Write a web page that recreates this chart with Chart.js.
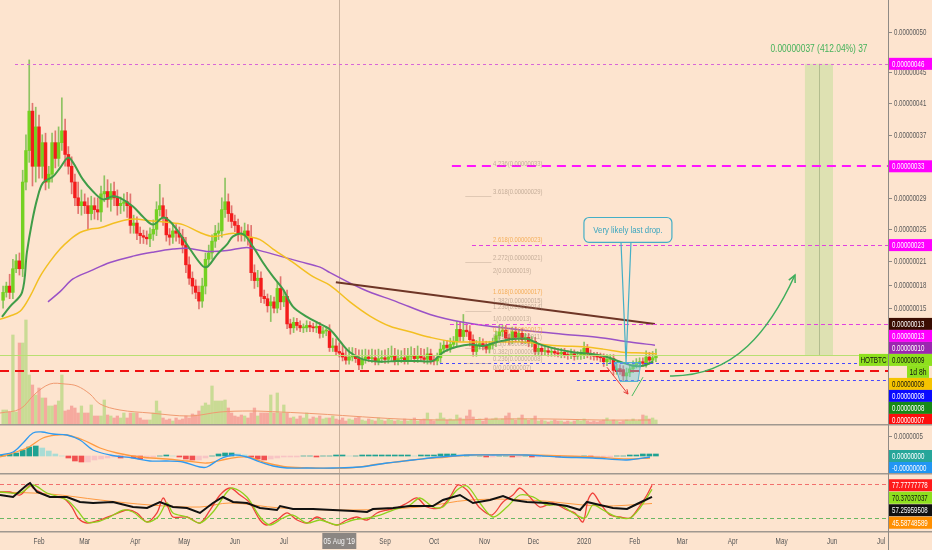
<!DOCTYPE html>
<html>
<head>
<meta charset="utf-8">
<script src="https://cdn.jsdelivr.net/npm/chart.js@4.4.1/dist/chart.umd.min.js"></script>
<style>
  html, body { margin: 0; padding: 0; background: #fde4cf; }
  #wrap { position: relative; width: 932px; height: 550px; overflow: hidden; }
  canvas { position: absolute; left: 0; }
</style>
</head>
<body>
<div id="wrap">
  <canvas id="main" width="932" height="424" style="top:0"></canvas>
  <canvas id="macd" width="932" height="49" style="top:424px"></canvas>
  <canvas id="stoch" width="932" height="77" style="top:473px"></canvas>
</div>
<script>
// HOT/BTC, 2-day candles. Prices in satoshi (1e-8 BTC), days counted from 1 Jan 2019
const candleStart = 9;
const firstOpen = 16.0;
const closes = [
  17.0,17.8,17.0,20.0,21.0,20.0,31.0,35.0,40.0,33.0,
  38.0,33.0,36.0,31.0,32.0,36.0,34.0,36.0,37.5,34.5,
  33.0,31.0,29.0,28.0,28.5,28.0,27.0,28.0,27.5,27.2,
  29.5,29.8,28.8,29.8,29.0,28.0,28.3,28.5,28.0,25.5,
  25.8,24.5,24.2,24.0,23.8,24.4,25.0,27.5,28.0,26.5,
  24.3,24.0,24.8,24.5,24.0,23.0,20.5,18.8,17.8,17.0,
  15.9,17.8,21.2,22.0,23.5,24.5,24.8,27.5,28.5,27.0,
  26.0,25.5,24.5,24.3,24.8,24.0,19.5,18.5,18.8,16.5,
  16.2,15.3,15.8,15.0,17.5,15.8,16.5,13.0,12.5,13.2,
  12.8,12.5,12.5,12.8,12.6,12.5,12.7,11.8,12.1,12.1,
  10.0,10.2,9.5,9.3,8.8,8.4,8.8,9.0,8.6,7.8,
  8.5,8.8,8.6,8.7,8.3,8.6,8.7,8.5,8.8,8.9,
  8.3,8.6,8.7,8.4,8.9,9.0,8.6,8.9,8.7,8.5,
  9.2,8.4,8.3,8.7,9.8,10.3,10.0,10.4,10.8,12.3,
  11.4,12.2,12.0,11.0,9.5,10.3,10.5,10.2,9.8,10.3,
  10.6,11.5,12.0,12.2,11.2,11.0,12.0,11.3,11.8,11.0,
  11.3,10.6,10.8,9.5,9.9,9.5,9.6,9.4,9.5,9.3,
  9.2,9.4,9.1,9.0,9.2,8.9,9.0,9.1,9.9,9.2,
  9.0,8.9,8.8,8.7,8.2,8.5,8.6,7.1,7.3,7.2,
  6.4,6.8,7.3,7.8,8.0,8.2,8.0,8.8,8.4,8.7,
  9.0
];
const wickUp = [
  0.8,0.5,1.5,1.2,0.8,1.0,1.5,2.0,6.5,1.0,
  2.5,1.5,1.0,1.2,1.0,1.2,1.5,2.0,4.2,1.5,
  1.0,1.2,1.0,2.0,1.5,1.0,1.0,1.2,1.0,1.5,
  1.0,2.0,1.5,1.0,1.2,1.0,0.8,1.0,1.2,1.5,
  1.0,0.8,0.8,0.7,0.8,0.8,1.2,1.0,2.7,1.0,
  1.0,0.8,1.0,0.8,0.8,1.0,1.0,1.0,0.8,0.8,
  0.8,1.0,0.8,1.0,0.8,1.0,1.0,1.5,3.0,1.0,
  1.0,0.8,0.8,0.8,1.0,0.8,1.5,1.0,1.0,0.8,
  0.8,0.6,0.8,0.6,0.8,1.5,0.8,0.8,0.6,0.6,
  0.5,0.6,0.5,0.6,0.5,0.5,0.6,0.5,0.5,0.6,
  0.8,1.0,0.9,1.1,1.0,0.9,1.2,1.0,0.9,1.1,
  1.2,1.0,0.9,1.1,1.0,1.2,0.9,1.0,1.1,1.3,
  1.0,1.1,0.9,1.2,1.0,1.1,0.9,1.3,1.0,1.1,
  0.8,0.6,0.5,0.6,0.8,0.6,0.6,0.8,0.6,1.0,
  1.0,2.0,0.8,0.8,0.6,0.6,0.8,0.6,0.6,0.5,
  0.6,0.6,0.8,0.6,0.6,0.5,0.6,0.6,0.5,0.6,
  0.5,0.5,0.6,0.5,0.5,0.5,0.6,0.5,0.5,0.5,
  0.6,0.5,0.5,0.5,0.6,0.5,0.5,0.6,0.8,0.5,
  0.5,0.4,0.5,0.5,0.5,0.6,0.5,0.5,0.6,0.5,
  0.5,0.6,0.5,0.5,0.6,0.5,0.5,0.8,0.6,0.8,
  0.8
];
const wickDn = [
  1.0,0.6,0.8,0.8,0.5,0.8,1.0,1.0,1.5,2.5,
  2.0,1.5,1.5,1.0,0.8,1.0,1.2,1.0,1.0,1.5,
  1.0,1.5,1.0,1.0,1.2,1.0,2.0,0.8,1.2,1.0,
  1.2,1.0,1.0,1.5,1.0,1.2,1.0,1.0,1.5,1.0,
  1.0,0.8,1.0,0.8,0.7,1.0,0.8,0.8,0.8,1.0,
  0.8,1.0,0.8,1.0,0.8,1.0,1.0,0.8,1.0,0.8,
  1.0,0.8,1.0,0.8,0.8,0.8,0.8,0.8,1.0,1.0,
  0.8,0.8,1.0,0.8,0.8,1.0,1.0,1.0,0.8,0.8,
  0.6,0.8,2.0,0.6,0.6,1.0,0.6,0.6,0.8,0.6,
  0.6,0.5,0.6,0.5,0.6,0.5,0.6,0.6,0.5,0.6,
  0.5,0.5,0.5,0.5,0.5,0.5,0.5,0.5,0.5,0.6,
  0.5,0.5,0.4,0.5,0.5,0.5,0.5,0.5,0.5,0.5,
  0.5,0.5,0.5,0.5,0.5,0.5,0.5,0.5,0.5,0.5,
  0.6,0.5,0.5,0.5,0.6,0.5,0.5,0.6,0.5,0.6,
  0.6,0.6,0.6,0.8,0.6,0.6,0.5,0.5,0.5,0.5,
  0.5,0.5,0.5,0.6,0.5,0.6,0.5,0.6,0.5,0.5,
  0.5,0.5,0.5,0.5,0.5,0.5,0.4,0.5,0.5,0.4,
  0.4,0.5,0.4,0.5,0.4,0.5,0.4,0.5,0.5,0.5,
  0.5,0.5,0.4,0.5,0.6,0.5,0.5,0.6,0.5,0.6,
  0.6,0.5,0.5,0.5,0.4,0.5,0.4,0.5,0.5,0.4,
  0.5
];
const volumes = [
  14,14,12,89,12,81,81,104,49,39,
  29,36,26,26,18,18,19,23,49,13,
  14,18,16,11,18,11,11,19,8,8,
  8,24,9,8,6,8,6,11,6,11,
  11,11,6,4,4,4,11,23,13,6,
  4,5,3,6,4,5,8,6,10,9,
  13,18,21,19,38,23,23,23,24,16,
  11,8,7,9,8,6,11,16,8,11,
  11,11,29,11,31,11,19,11,6,7,
  5,8,6,11,5,7,6,8,5,6,
  6,8,5,4,6,3,5,4,6,7,
  4,3,5,4,3,6,4,3,5,4,
  3,4,3,5,3,4,6,3,4,5,
  11,4,3,5,11,6,4,5,4,9,
  6,5,8,14,7,4,5,3,6,4,
  5,6,4,5,8,11,5,4,6,9,
  5,4,5,8,3,4,3,2,3,4,
  3,3,2,3,2,3,4,3,5,3,
  2,3,2,3,4,6,3,4,3,2,
  3,4,3,5,3,4,9,8,5,6,
  4
];
const volumeMa = [[7.1,11],[19.4,15],[28.5,30],[37.7,40],[46.9,40],[54.3,38],[62.2,30],[68.4,20],[80.6,14],[99,11],[123.5,8],[141.9,12],[160.3,13],[178.7,12],[203.2,10],[221.5,8],[252.2,5],[282.8,4],[313.5,5],[344.1,5],[374.7,4],[405.4,4]];

// moving averages [day, price]
const emaFast = [[8.3,13.9],[13.2,15.2],[20.6,17.0],[23.6,22.1],[26.7,25.9],[29.8,28.8],[33.4,30.9],[39.6,31.7],[43.9,32.8],[48.8,34.1],[51.8,33.5],[58.0,31.3],[64.1,29.8],[70.2,28.8],[76.3,29.2],[80.6,29.0],[88.6,27.9],[94.7,26.6],[100.8,25.6],[107.0,26.5],[111.3,26.0],[117.4,24.4],[123.5,22.5],[131.5,20.3],[134.5,20.3],[140.1,21.8],[146.2,23.1],[149.9,24.1],[156.0,24.4],[162.1,22.8],[168.2,20.8],[174.4,19.0],[180.5,17.4],[186.6,15.2],[195.2,13.9],[203.2,13.0],[209.3,12.3],[215.4,10.8],[221.5,9.4],[229.5,8.5],[239.9,8.2],[250.3,8.3],[262.6,8.3],[272.4,8.3],[278.5,9.4],[287.1,10.1],[295.1,10.4],[303.0,10.2],[311.6,10.7],[321.4,11.1],[330.0,11.1],[338.0,10.4],[348.4,9.8],[358.2,9.4],[368.6,9.2],[379.0,8.8],[387.0,8.2],[394.9,7.7],[401.1,7.7],[407.2,8.2]];
const maYellow = [[7.1,13.6],[13.2,14.0],[19.4,14.6],[25.5,16.5],[31.6,19.0],[37.7,20.9],[43.9,22.5],[50.0,23.7],[56.1,24.6],[62.2,25.0],[68.4,25.2],[78.8,25.9],[88.6,26.3],[99.0,26.1],[109.4,25.9],[119.2,25.6],[129.6,24.6],[137.6,24.1],[149.9,24.5],[158.4,24.1],[166.4,23.7],[174.4,22.5],[186.6,20.8],[198.9,19.0],[209.3,17.9],[221.5,15.8],[233.8,14.0],[246.1,12.7],[258.3,12.0],[270.6,11.3],[282.8,10.8],[295.1,10.7],[311.6,10.7],[327.5,10.7],[339.8,10.4],[352.0,10.2],[364.3,10.1],[376.6,9.8],[388.8,9.4],[401.1,9.3],[409.6,9.2]];
const maPurple = [[36.5,15.8],[43.9,17.1],[51.8,18.7],[62.2,19.7],[74.5,20.8],[88.6,21.6],[100.8,22.1],[113.1,22.5],[121.7,22.6],[133.9,22.2],[146.2,22.3],[158.4,22.7],[166.4,22.3],[178.7,21.6],[190.9,20.9],[203.2,20.2],[209.3,19.5],[229.5,17.4],[250.3,15.8],[270.6,14.2],[290.8,13.2],[311.6,12.6],[331.8,12.1],[352.0,11.7],[372.9,11.3],[393.1,10.7],[408.4,10.3]];
const trendLine = [[212.9,18.3],[408.4,13.0]];

// MACD pane (units of 1e-10 BTC)
const macdLine = [[7.1,1],[15.1,4],[21.2,13],[27.3,23],[32.8,24],[39.6,22],[48.1,21],[56.1,16],[64.1,6],[74.5,1],[88.6,-2],[99.0,-5],[109.4,-5],[119.2,-6],[129.6,-11],[133.9,-11],[141.9,-3],[149.9,1],[158.4,-1],[166.4,-6],[174.4,-10],[183.0,-12],[195.2,-12],[211.1,-12],[227.7,-11],[244.2,-7],[260.1,-4],[276.7,-1],[295.1,1],[309.2,1],[330.0,1],[350.2,-1],[370.4,-2],[391.3,-4],[405.4,-1]];
const signalLine = [[7.1,-1],[23.6,8],[33.4,18],[42.0,21],[48.1,21],[58.0,16],[68.4,8],[78.8,3],[92.9,-1],[109.4,-3],[121.7,-5],[133.9,-7],[146.2,-3],[158.4,-1],[170.7,-7],[183.0,-11],[198.9,-12],[219.7,-12],[239.9,-8],[260.1,-4],[281.0,-1],[295.1,1],[330.0,1],[370.4,-1],[391.3,-3],[405.4,-2]];
const histStart = 9;
const histogram = [
  1,2,3,6,9,10,8,5,2,0,
  -2,-5,-6,-6,-4,-3,-2,-1,-2,-1,
  -2,-3,-2,-1,0,1,0,-1,-3,-4,
  -4,-2,0,2,3,3,2,1,-1,-3,
  -4,-3,-2,-1,-1,-1,0,0,-1,0,
  0,1,1,0,0,1,1,1,1,1,
  1,1,1,0,1,1,1,2,2,2,
  1,1,0,0,-1,-1,0,0,-1,-1,
  0,-1,-1,0,0,-1,-1,-1,-1,0,
  -1,-1,-1,-1,0,0,1,1,2,2,
  2
];

// Stoch RSI pane
const stochK = [[7.1,65.9],[13.2,65.9],[19.4,60.6],[25.5,78.2],[27.3,72.9],[31.6,65.9],[37.7,57.1],[45.7,55.3],[51.2,39.4],[54.9,20.0],[60.4,11.2],[68.4,16.5],[76.3,25.3],[84.9,34.1],[91.0,28.9],[97.2,13.0],[103.3,28.9],[107.0,55.3],[110.0,39.4],[113.1,21.8],[121.7,21.8],[129.6,11.2],[135.8,34.1],[141.9,60.6],[148.0,72.9],[154.2,60.6],[160.3,46.5],[166.4,16.5],[170.7,7.7],[176.8,16.5],[183.0,28.9],[189.1,16.5],[195.2,11.2],[201.3,21.8],[207.5,13.0],[213.6,7.7],[219.7,16.5],[225.8,21.8],[232.0,16.5],[238.1,28.9],[244.2,34.1],[250.3,37.7],[256.5,46.5],[262.6,55.3],[268.7,39.4],[276.7,37.7],[282.8,57.1],[287.7,78.2],[293.2,69.4],[296.3,57.1],[301.2,37.7],[308.5,25.3],[315.3,48.3],[321.4,60.6],[325.7,72.9],[331.8,57.1],[338.0,39.4],[345.9,46.5],[354.5,34.1],[359.4,28.9],[364.3,13.0],[367.4,51.8],[370.4,64.1],[374.7,46.5],[380.8,25.3],[387.0,21.8],[393.1,20.0],[397.4,34.1],[403.5,60.6],[406.6,77.8]];
const stochD = [[7.1,65.9],[19.4,64.1],[27.3,78.2],[35.9,64.1],[48.1,51.8],[54.3,34.1],[60.4,13.0],[66.5,13.0],[74.5,21.8],[82.5,34.1],[88.6,30.6],[97.2,13.0],[103.9,21.8],[109.4,46.5],[113.1,28.9],[121.7,21.8],[129.6,11.2],[137.6,30.6],[146.2,65.9],[149.9,72.9],[158.4,57.1],[166.4,21.8],[172.5,7.7],[180.5,20.0],[186.6,25.3],[195.2,11.2],[203.2,16.5],[213.6,7.7],[223.4,16.5],[232.0,20.0],[239.9,25.3],[247.9,34.1],[258.3,43.0],[264.4,55.3],[272.4,39.4],[278.5,39.4],[287.1,69.4],[293.2,76.5],[301.2,46.5],[309.2,21.8],[317.7,39.4],[325.7,60.6],[333.7,57.1],[342.2,43.0],[350.2,43.0],[358.2,28.9],[365.5,20.0],[370.4,43.0],[376.6,34.1],[385.1,21.8],[393.1,20.0],[399.2,37.7],[406.6,70.4]];
const rsi = [[7.1,60.6],[15.1,57.1],[23.6,78.2],[25.5,81.8],[29.8,65.9],[37.7,57.1],[48.1,57.1],[56.1,48.3],[64.1,46.5],[76.3,48.3],[88.6,39.4],[97.2,37.7],[105.1,48.3],[113.1,39.4],[121.7,37.7],[129.6,28.9],[137.6,46.5],[143.7,57.1],[149.9,48.3],[158.4,46.5],[166.4,37.7],[176.8,34.1],[178.7,41.2],[186.6,35.9],[198.9,35.9],[211.1,34.1],[223.4,32.4],[232.0,30.6],[235.6,35.9],[247.9,37.7],[258.3,41.2],[272.4,41.2],[278.5,51.8],[288.9,60.6],[296.9,46.5],[307.3,51.8],[315.3,58.8],[321.4,51.8],[330.0,48.3],[342.2,46.5],[354.5,41.2],[362.5,34.1],[366.7,48.3],[374.7,43.0],[382.7,37.7],[391.3,35.9],[397.4,44.7],[406.6,57.3]];
const rsiMa = [[7.1,65.9],[37.7,62.4],[68.4,51.8],[99.0,43.0],[129.6,39.4],[148.0,46.5],[178.7,37.7],[221.5,34.1],[264.4,39.4],[295.1,51.8],[331.8,51.8],[374.7,41.2],[406.6,45.6]];

// axes
const monthDays = [31,59,90,120,151,181,212,243,273,304,334,365,396,425,456,486,517,547];
const monthLabels = ['Feb','Mar','Apr','May','Jun','Jul','Aug','Sep','Oct','Nov','Dec','2020','Feb','Mar','Apr','May','Jun','Jul'];
const priceTicks = [50,45,41,37,29,25,21,18,15];
const macdTicks = [20];
const macdTickLabels = ['0.0000005'];

// drawings on the price pane
const priceTags = [46,33,23,13,13,10,9,9.2,8,8,7];
const levels = [[46,16.3],[33,284.0],[23,296.3],[13,282.8],[9,7.1],[8,276.7],[5.9,360.6],[7,7.1]];
const fibDay = 309.2;
const fibValues = [33.3,29.7,23.6,21.4,19.7,17.1,15.9,15.2,13.6,12.2,11.3,10.4,9.4,8.5,7.4];
const fibLabels = ['4.236(0.00000033)','3.618(0.00000029)','2.618(0.00000023)','2.272(0.00000021)','2(0.00000019)','1.618(0.00000017)','1.382(0.00000015)','1.236(0.00000014)','1(0.00000013)','0.786(0.00000012)','0.618(0.00000011)','0.5(0.0000001)','0.382(0.00000009)','0.236(0.00000008)','0(0.00000007)'];
const targetZone = [500.3, 517.5, 46, 9];
const targetText = '0.00000037 (412.04%) 37';
const calloutBox = [364.9, 418.8, 26.5, 23.35];
const calloutTail = [387.6, 393.7, 390.7, 8.1];
const calloutText = 'Very likely last drop.';
const dropBox = [[383.3,8.1],[399.8,8.1],[398.0,5.7],[387.0,5.7]];
const redArrow = [[379,7.5],[391.9,4.1]];
const greenTick = [[394.3,3.85],[401.1,6.25]];
const bigArrow = [[417.6,6.4],[457.4,6.25],[478.9,12.3],[494.2,19.2]];
const crosshairDay = 215;
const crosshairLabel = "05 Aug '19";

// MACD / stoch labels on the right axis
const macdTags = [0, -1];
const macdTagText = ['0.00000000', '-0.00000000'];
const stochTags = [77.77777778, 70.37037037, 57.25959508, 45.58748589];

// ---------------------------------------------------------------------------
const BG = '#fde4cf';
const FONT = '"Liberation Sans", "DejaVu Sans", sans-serif';
const DAY_MIN = 7.1, DAY_MAX = 551.2;

const tagStyles = [
  { bg: '#ff00ff', fg: '#fff' }, { bg: '#ff00ff', fg: '#fff' }, { bg: '#ff00ff', fg: '#fff' },
  { bg: '#3a0c02', fg: '#fff' }, { bg: '#ff00ff', fg: '#fff' }, { bg: '#9c27b0', fg: '#fff' },
  { bg: '#8ee01e', fg: '#111', name: 'HOTBTC', sub: '1d 8h' },
  { bg: '#f6c400', fg: '#111' }, { bg: '#0a0aff', fg: '#fff' }, { bg: '#178a17', fg: '#fff' },
  { bg: '#ff0d0d', fg: '#fff' }
];
const levelStyles = [
  { c: '#d866d8', w: 1, d: [3, 3] }, { c: '#ff14ff', w: 2, d: [9, 6] },
  { c: '#e040e0', w: 1, d: [4, 3] }, { c: '#e040e0', w: 1, d: [4, 3] },
  { c: '#b8df72', w: 1, d: [] }, { c: '#4848ff', w: 1, d: [3, 3] },
  { c: '#4848ff', w: 1, d: [3, 3] }, { c: '#f01010', w: 2, d: [9, 6] }
];
const fibOrange = [2, 5, 9];
const macdTagStyles = [{ bg: '#26a69a', fg: '#fff' }, { bg: '#2196f3', fg: '#fff' }];
const stochTagStyles = [{ bg: '#ff1a1a', fg: '#fff' }, { bg: '#8ee01e', fg: '#111' }, { bg: '#111', fg: '#fff' }, { bg: '#ff8f00', fg: '#fff' }];

function txt(ctx, s, x, y, size, color, align, sx, maxW) {
  ctx.save();
  ctx.font = size + 'px ' + FONT;
  ctx.fillStyle = color;
  ctx.textBaseline = 'middle';
  ctx.textAlign = align || 'left';
  ctx.translate(x, y);
  ctx.scale(sx || 1, 1);
  if (maxW) ctx.fillText(s, 0, 0, maxW / (sx || 1));
  else ctx.fillText(s, 0, 0);
  ctx.restore();
}

function arrowHead(ctx, x0, y0, x1, y1, len) {
  const a = Math.atan2(y1 - y0, x1 - x0);
  ctx.beginPath();
  ctx.moveTo(x1 - len * Math.cos(a - 0.45), y1 - len * Math.sin(a - 0.45));
  ctx.lineTo(x1, y1);
  ctx.lineTo(x1 - len * Math.cos(a + 0.45), y1 - len * Math.sin(a + 0.45));
  ctx.stroke();
}

function fillBg(c) {
  c.ctx.save();
  c.ctx.fillStyle = BG;
  c.ctx.fillRect(0, 0, c.width, c.height);
  c.ctx.restore();
}

function crosshair(c, bottom) {
  const { ctx, scales: { x } } = c;
  const px = Math.round(x.getPixelForValue(crosshairDay)) + 0.5;
  ctx.save();
  ctx.strokeStyle = 'rgba(140,118,98,0.45)';
  ctx.lineWidth = 1;
  ctx.beginPath(); ctx.moveTo(px, 0); ctx.lineTo(px, bottom); ctx.stroke();
  ctx.restore();
}

// right price axis: line, tick labels and the coloured value tags
function drawAxis(c, tickText, tags, tagText, styles, gap) {
  const { ctx, chartArea: a, scales: { y } } = c;
  const ax = a.right;
  ctx.save();
  ctx.strokeStyle = '#8f8a85'; ctx.lineWidth = 1;
  ctx.beginPath(); ctx.moveTo(ax + 0.5, 0); ctx.lineTo(ax + 0.5, c.height); ctx.stroke();
  if (tickText) {
    y.ticks.forEach((t, i) => {
      const py = Math.round(y.getPixelForValue(t.value)) + 0.5;
      ctx.beginPath(); ctx.moveTo(ax, py); ctx.lineTo(ax + 4, py); ctx.stroke();
      txt(ctx, tickText(t.value, i), ax + 6, py, 8.5, '#5a5a5a', 'left', 0.72, c.width - ax - 7);
    });
  }
  let last = -1e9;
  tags.forEach((v, i) => {
    const st = styles[i];
    const py = Math.max(y.getPixelForValue(v), last + gap);
    last = py;
    ctx.fillStyle = st.bg;
    ctx.fillRect(ax + 1, py - 6, c.width - ax - 1, 12);
    txt(ctx, tagText(v, i), ax + 4, py + 0.5, 8.5, st.fg, 'left', 0.72, c.width - ax - 6);
    if (st.name) {
      ctx.fillStyle = st.bg;
      ctx.fillRect(ax - 29, py - 6, 29, 12);
      txt(ctx, st.name, ax - 14.5, py + 0.5, 8.5, st.fg, 'center', 0.75);
    }
    if (st.sub) {
      last += gap;
      ctx.fillStyle = st.bg;
      ctx.fillRect(ax + 19, last - 6, 22, 12);
      txt(ctx, st.sub, ax + 30, last + 0.5, 8.5, st.fg, 'center', 0.8);
    }
  });
  ctx.restore();
}

const satText = v => (v / 1e8).toFixed(8);

const mainDeco = {
  id: 'mainDeco',
  beforeDraw(c) {
    fillBg(c);
    const { ctx, scales: { x, y }, chartArea: a } = c;
    ctx.save();
    const zx0 = x.getPixelForValue(targetZone[0]), zx1 = x.getPixelForValue(targetZone[1]);
    const zy0 = y.getPixelForValue(targetZone[2]), zy1 = y.getPixelForValue(targetZone[3]);
    ctx.fillStyle = 'rgba(192,222,150,0.5)';
    ctx.fillRect(zx0, zy0, zx1 - zx0, zy1 - zy0);
    const zm = Math.round((zx0 + zx1) / 2) + 0.5;
    ctx.strokeStyle = 'rgba(150,165,120,0.6)'; ctx.lineWidth = 1;
    ctx.beginPath(); ctx.moveTo(zm, zy0); ctx.lineTo(zm, zy1); ctx.stroke();
    txt(ctx, targetText, (zx0 + zx1) / 2, zy0 - 15, 10.5, '#45b25a', 'center', 0.8);
    ctx.restore();
    crosshair(c, a.bottom);
  },
  afterDatasetsDraw(c) {
    const { ctx, chartArea: a, scales: { x, y } } = c;
    const X = d => x.getPixelForValue(d), Y = v => y.getPixelForValue(v);
    ctx.save();
    // horizontal levels
    levels.forEach((lv, i) => {
      const st = levelStyles[i];
      const py = Math.round(Y(lv[0])) + (st.w === 1 ? 0.5 : 0);
      ctx.strokeStyle = st.c; ctx.lineWidth = st.w; ctx.setLineDash(st.d);
      ctx.beginPath(); ctx.moveTo(Math.max(X(lv[1]), 0), py); ctx.lineTo(a.right, py); ctx.stroke();
    });
    ctx.setLineDash([]);
    // fibonacci labels
    fibValues.forEach((v, i) => {
      const orange = fibOrange.includes(i);
      const py = Y(v);
      if (!orange && i % 2 === 1) {
        ctx.strokeStyle = 'rgba(170,150,130,0.35)'; ctx.lineWidth = 1;
        ctx.beginPath(); ctx.moveTo(X(fibDay - 17), Math.round(py) + 4.5); ctx.lineTo(X(fibDay - 1), Math.round(py) + 4.5); ctx.stroke();
      }
      txt(ctx, fibLabels[i], X(fibDay), py, 7.5, orange ? 'rgba(242,160,60,0.8)' : 'rgba(150,128,110,0.55)', 'left', 0.78);
    });
    // drop highlight box
    ctx.fillStyle = 'rgba(110,200,225,0.45)';
    ctx.strokeStyle = 'rgba(70,175,205,0.9)'; ctx.lineWidth = 1;
    ctx.beginPath();
    dropBox.forEach((p, i) => i ? ctx.lineTo(X(p[0]), Y(p[1])) : ctx.moveTo(X(p[0]), Y(p[1])));
    ctx.closePath(); ctx.fill(); ctx.stroke();
    // red arrow and green tick
    ctx.strokeStyle = '#e53935'; ctx.lineWidth = 1;
    ctx.beginPath(); ctx.moveTo(X(redArrow[0][0]), Y(redArrow[0][1])); ctx.lineTo(X(redArrow[1][0]), Y(redArrow[1][1])); ctx.stroke();
    arrowHead(ctx, X(redArrow[0][0]), Y(redArrow[0][1]), X(redArrow[1][0]), Y(redArrow[1][1]), 5);
    ctx.strokeStyle = '#4cbb60';
    ctx.beginPath(); ctx.moveTo(X(greenTick[0][0]), Y(greenTick[0][1])); ctx.lineTo(X(greenTick[1][0]), Y(greenTick[1][1])); ctx.stroke();
    // projected move
    const b = bigArrow.map(p => [X(p[0]), Y(p[1])]);
    ctx.strokeStyle = '#3fae5c'; ctx.lineWidth = 1.5;
    ctx.beginPath(); ctx.moveTo(b[0][0], b[0][1]);
    ctx.bezierCurveTo(b[1][0], b[1][1], b[2][0], b[2][1], b[3][0], b[3][1]); ctx.stroke();
    arrowHead(ctx, b[2][0], b[2][1], b[3][0], b[3][1], 8);
    // callout
    const bx0 = X(calloutBox[0]), bx1 = X(calloutBox[1]), by0 = Y(calloutBox[2]), by1 = Y(calloutBox[3]);
    ctx.strokeStyle = '#45afc6'; ctx.lineWidth = 1.2;
    ctx.beginPath(); ctx.moveTo(X(calloutTail[0]), by1); ctx.lineTo(X(calloutTail[2]), Y(calloutTail[3])); ctx.lineTo(X(calloutTail[1]), by1); ctx.stroke();
    ctx.fillStyle = 'rgba(253,230,210,0.95)';
    ctx.beginPath();
    if (ctx.roundRect) ctx.roundRect(bx0, by0, bx1 - bx0, by1 - by0, 5); else ctx.rect(bx0, by0, bx1 - bx0, by1 - by0);
    ctx.fill(); ctx.stroke();
    txt(ctx, calloutText, (bx0 + bx1) / 2, (by0 + by1) / 2, 9.5, '#3aa5bf', 'center', 0.82);
    ctx.restore();
  },
  afterDraw(c) {
    drawAxis(c, v => satText(v), priceTags, v => satText(v), tagStyles, 12);
  }
};

const macdDeco = {
  id: 'macdDeco',
  beforeDraw(c) { fillBg(c); crosshair(c, c.chartArea.bottom); },
  afterDraw(c) {
    const ctx = c.ctx;
    ctx.save();
    ctx.strokeStyle = '#a09890'; ctx.lineWidth = 1.5;
    ctx.beginPath(); ctx.moveTo(0, 0.75); ctx.lineTo(c.width, 0.75); ctx.stroke();
    ctx.restore();
    drawAxis(c, (v, i) => macdTickLabels[i], macdTags, (v, i) => macdTagText[i], macdTagStyles, 12);
  }
};

const stochDeco = {
  id: 'stochDeco',
  beforeDraw(c) {
    fillBg(c);
    const { ctx, chartArea: a, scales: { y } } = c;
    crosshair(c, a.bottom);
    ctx.save();
    ctx.lineWidth = 1; ctx.setLineDash([4, 3]);
    [[80, 'rgba(240,90,90,0.85)'], [20, 'rgba(80,175,80,0.85)']].forEach(l => {
      const py = Math.round(y.getPixelForValue(l[0])) + 0.5;
      ctx.strokeStyle = l[1];
      ctx.beginPath(); ctx.moveTo(a.left, py); ctx.lineTo(a.right, py); ctx.stroke();
    });
    ctx.restore();
  },
  afterDraw(c) {
    const { ctx, chartArea: a, scales: { x } } = c;
    ctx.save();
    ctx.strokeStyle = '#a09890'; ctx.lineWidth = 1.5;
    ctx.beginPath(); ctx.moveTo(0, 0.75); ctx.lineTo(c.width, 0.75); ctx.stroke();
    ctx.beginPath(); ctx.moveTo(0, a.bottom + 0.75); ctx.lineTo(c.width, a.bottom + 0.75); ctx.stroke();
    // time axis
    monthDays.forEach((d, i) => {
      txt(ctx, monthLabels[i], x.getPixelForValue(d), a.bottom + 10.5, 8.5, '#555', 'center', 0.75);
    });
    const cx = x.getPixelForValue(crosshairDay);
    ctx.fillStyle = '#8b8682';
    ctx.fillRect(cx - 17, a.bottom + 2, 34, 16);
    txt(ctx, crosshairLabel, cx, a.bottom + 10.5, 8.5, '#f4f4f4', 'center', 0.78);
    ctx.restore();
    drawAxis(c, null, stochTags, v => v.toFixed(8), stochTagStyles, 12.5);
  }
};

// ---------------------------------------------------------------------------
const pts = arr => arr.map(p => ({ x: p[0], y: p[1] }));
const lineDs = (data, color, width, order, extra) => Object.assign({
  type: 'line', data: pts(data), borderColor: color, borderWidth: width,
  pointRadius: 0, fill: false, tension: 0.35, order: order
}, extra || {});

const bodies = [], wicks = [], vols = [], bodyCol = [], wickCol = [], volCol = [];
closes.forEach((c, i) => {
  const d = candleStart + 2 * i;
  const o = i ? closes[i - 1] : firstOpen;
  const up = c >= o;
  bodies.push({ x: d, y: [o, c] });
  wicks.push({ x: d, y: [Math.min(o, c) - wickDn[i], Math.max(o, c) + wickUp[i]] });
  vols.push({ x: d, y: volumes[i] });
  bodyCol.push(up ? '#74d122' : '#f41c1c');
  wickCol.push(up ? 'rgba(112,186,70,0.8)' : 'rgba(215,80,80,0.75)');
  volCol.push(up ? 'rgba(150,210,90,0.5)' : 'rgba(240,110,110,0.5)');
});

const histBars = [], histCol = [];
histogram.forEach((v, i) => {
  const prev = i ? histogram[i - 1] : 0;
  histBars.push({ x: histStart + 4 * i, y: v });
  if (v >= 0) histCol.push(v >= prev ? '#1fa292' : '#a9dcd5');
  else histCol.push(v < prev ? '#f15050' : '#f8c4c4');
});

const baseOpts = (yOpts, padBottom) => ({
  responsive: false, animation: false, devicePixelRatio: 1, events: [],
  layout: { padding: { left: 0, right: 0, top: 0, bottom: padBottom || 0 } },
  plugins: { legend: { display: false }, tooltip: { enabled: false } },
  scales: Object.assign({
    x: { type: 'linear', min: DAY_MIN, max: DAY_MAX, display: false, offset: false }
  }, yOpts)
});
const rightAxis = (min, max, ticks) => ({
  position: 'right', min: min, max: max,
  afterFit: s => { s.width = 44; },
  afterBuildTicks: ticks ? (s => { s.ticks = ticks.map(v => ({ value: v })); }) : undefined,
  ticks: { display: false }, grid: { display: false }, border: { display: false }
});

new Chart(document.getElementById('main'), {
  type: 'bar',
  data: {
    datasets: [
      lineDs(emaFast, '#3f9d48', 2, 1),
      lineDs(trendLine, '#6e3526', 2, 1, { tension: 0 }),
      lineDs(maYellow, '#f3bf22', 1.5, 2),
      lineDs(maPurple, '#9a52c6', 1.5, 2),
      { data: bodies, backgroundColor: bodyCol, barThickness: 2.8, minBarLength: 1, grouped: false, order: 4 },
      { data: wicks, backgroundColor: wickCol, barThickness: 1, grouped: false, order: 5 },
      lineDs(volumeMa, '#f09a70', 1, 8, { yAxisID: 'yv' }),
      { data: vols, yAxisID: 'yv', backgroundColor: volCol, barThickness: 2.6, grouped: false, order: 9 }
    ]
  },
  options: baseOpts({ y: rightAxis(0.3, 54.1, priceTicks), yv: { display: false, min: 0, max: 424 } }),
  plugins: [mainDeco]
});

new Chart(document.getElementById('macd'), {
  type: 'bar',
  data: {
    datasets: [
      lineDs(macdLine, '#2f9af0', 1.3, 1),
      lineDs(signalLine, '#ff9a40', 1.3, 2),
      { data: histBars, backgroundColor: histCol, barThickness: 5, grouped: false, order: 3 }
    ]
  },
  options: baseOpts({ y: rightAxis(-17, 32, macdTicks) }),
  plugins: [macdDeco]
});

new Chart(document.getElementById('stoch'), {
  type: 'line',
  data: {
    datasets: [
      lineDs(rsi, '#111111', 2, 0, { tension: 0 }),
      lineDs(stochK, '#f0403a', 1.3, 2, { tension: 0.3 }),
      lineDs(stochD, '#8fd11c', 1.3, 1, { tension: 0.3 }),
      lineDs(rsiMa, '#ff9a40', 1, 3)
    ]
  },
  options: baseOpts({ y: rightAxis(-2.9, 99.4, null) }, 19),
  plugins: [stochDeco]
});
</script>
</body>
</html>
